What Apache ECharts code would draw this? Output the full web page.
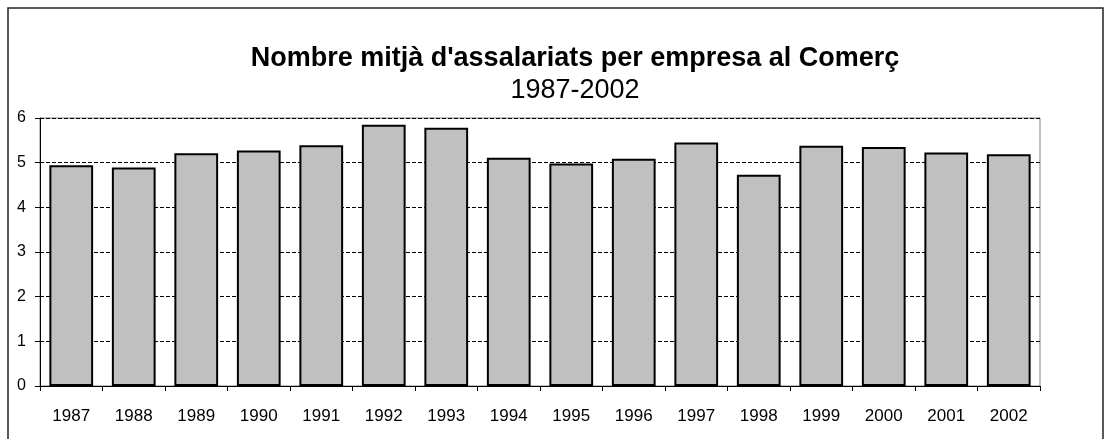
<!DOCTYPE html>
<html>
<head>
<meta charset="utf-8">
<script src="https://cdn.jsdelivr.net/npm/echarts@6/dist/echarts.min.js"></script>
<style>
html,body{margin:0;padding:0;background:#fff;}
#chart{width:1111px;height:439px;}
</style>
</head>
<body>
<div id="chart"></div>
<script>
const years = ['1987','1988','1989','1990','1991','1992','1993','1994','1995','1996','1997','1998','1999','2000','2001','2002'];
const values = [4.94, 4.89, 5.21, 5.27, 5.39, 5.85, 5.78, 5.11, 4.98, 5.09, 5.45, 4.73, 5.38, 5.35, 5.23, 5.19];
const titleText = "Nombre mitjà d'assalariats per empresa al Comerç";
const subtitleText = '1987-2002';

const chart = echarts.init(document.getElementById('chart'), null, {renderer:'canvas'});
chart.setOption({
  backgroundColor: '#fff',
  animation: false,
  graphic: [{
    type: 'rect',
    shape: {x: 8, y: 8, width: 1095, height: 600},
    style: {fill: 'none', stroke: '#222', lineWidth: 1.5},
    silent: true
  }],
  title: {
    text: titleText,
    subtext: subtitleText,
    left: 570,
    textAlign: 'center',
    top: 40,
    itemGap: 5,
    textStyle: {fontFamily: 'Liberation Sans, Arial', fontWeight: 'bold', fontSize: 27, color: '#000'},
    subtextStyle: {fontFamily: 'Liberation Sans, Arial', fontSize: 27, color: '#000'}
  },
  grid: {
    left: 40, right: 71, top: 118, bottom: 53,
    show: true, borderColor: '#808080', borderWidth: 1, backgroundColor: '#fff'
  },
  xAxis: {
    type: 'category',
    data: years,
    boundaryGap: true,
    axisLine: {show: true, lineStyle: {color: '#000', width: 1}},
    axisTick: {show: true, alignWithLabel: false, length: 5, lineStyle: {color: '#000'}},
    axisLabel: {margin: 22, fontFamily: 'Liberation Sans, Arial', fontSize: 17, color: '#000'},
    splitLine: {show: false}
  },
  yAxis: {
    type: 'value',
    min: 0, max: 6, interval: 1,
    axisLine: {show: true, lineStyle: {color: '#000', width: 1}},
    axisTick: {show: true, length: 5, lineStyle: {color: '#000'}},
    axisLabel: {margin: 14, fontFamily: 'Liberation Sans, Arial', fontSize: 16, color: '#000'},
    splitLine: {show: true, lineStyle: {color: '#000', type: [4, 2], width: 1}}
  },
  series: [{
    type: 'bar',
    data: values,
    barCategoryGap: '30%',
    itemStyle: {color: '#C0C0C0', borderColor: '#000', borderWidth: 2}
  }]
});
</script>
</body>
</html>
